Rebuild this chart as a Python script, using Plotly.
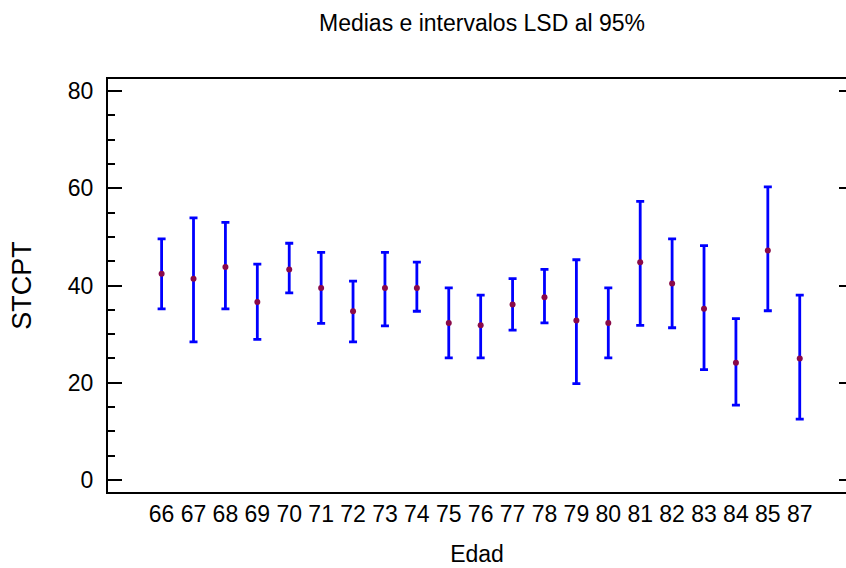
import plotly.graph_objects as go

# Data
edad = ["66", "67", "68", "69", "70", "71", "72", "73", "74", "75", "76",
        "77", "78", "79", "80", "81", "82", "83", "84", "85", "87"]
medias = [42.4, 41.4, 43.8, 36.6, 43.3, 39.5, 34.7, 39.5, 39.5, 32.3, 31.8,
          36.1, 37.6, 32.8, 32.3, 44.8, 40.4, 35.2, 24.1, 47.2, 25.0]
superior = [49.6, 53.9, 53.0, 44.4, 48.7, 46.8, 40.9, 46.8, 44.8, 39.5, 38.0,
            41.4, 43.3, 45.3, 39.5, 57.3, 49.6, 48.2, 33.2, 60.3, 38.0]
inferior = [35.2, 28.4, 35.2, 28.9, 38.5, 32.2, 28.4, 31.7, 34.7, 25.1, 25.1,
            30.8, 32.3, 19.8, 25.1, 31.8, 31.3, 22.7, 15.4, 34.8, 12.5]
y_ticks = [0, 20, 40, 60, 80]

pos = list(range(len(edad)))
err_plus = [s - m for s, m in zip(superior, medias)]
err_minus = [m - i for m, i in zip(medias, inferior)]

FONT = "Liberation Sans, Arial, sans-serif"

fig = go.Figure()
fig.add_trace(go.Scatter(
    x=pos, y=medias, mode="markers",
    marker=dict(color="#8a0a48", size=6),
    error_y=dict(type="data", symmetric=False, array=err_plus,
                 arrayminus=err_minus, color="#0000ff", thickness=2.8, width=4),
    showlegend=False, hoverinfo="skip",
))
# dummy trace for the right-hand tick axis
fig.add_trace(go.Scatter(x=[], y=[], yaxis="y2", showlegend=False))

fig.update_layout(
    width=846, height=568,
    margin=dict(l=108, r=0, t=79, b=76),
    paper_bgcolor="white", plot_bgcolor="white",
    font=dict(family=FONT, color="black"),
    title=dict(text="Medias e intervalos LSD al 95%", x=482 / 846, xanchor="center",
               y=1 - 23 / 568, yanchor="middle",
               font=dict(size=23, family=FONT, color="black")),
    xaxis=dict(
        range=[-1.68, 21.45], tickvals=pos, ticktext=edad,
        showgrid=False, zeroline=False, ticks="",
        showline=True, linecolor="black", linewidth=2, mirror=True,
        tickfont=dict(size=23, family=FONT),
        title=dict(text="Edad", font=dict(size=23, family=FONT), standoff=20),
    ),
    yaxis=dict(
        range=[-2.5, 82.5], tickvals=y_ticks,
        showgrid=False, zeroline=False,
        ticks="inside", ticklen=14, tickwidth=2, tickcolor="black",
        showline=True, linecolor="black", linewidth=2,
        minor=dict(dtick=5, ticks="inside", ticklen=7, tickwidth=2,
                   tickcolor="black", showgrid=False),
        tickfont=dict(size=23, family=FONT), ticklabelstandoff=8,
        title=dict(text="STCPT", font=dict(size=27, family=FONT), standoff=28),
    ),
    yaxis2=dict(
        overlaying="y", side="right", range=[-2.5, 82.5], tickvals=y_ticks,
        showgrid=False, zeroline=False, showline=False,
        ticks="inside", ticklen=7, tickwidth=2, tickcolor="black",
        showticklabels=False,
    ),
)

fig.write_html("out.html")
